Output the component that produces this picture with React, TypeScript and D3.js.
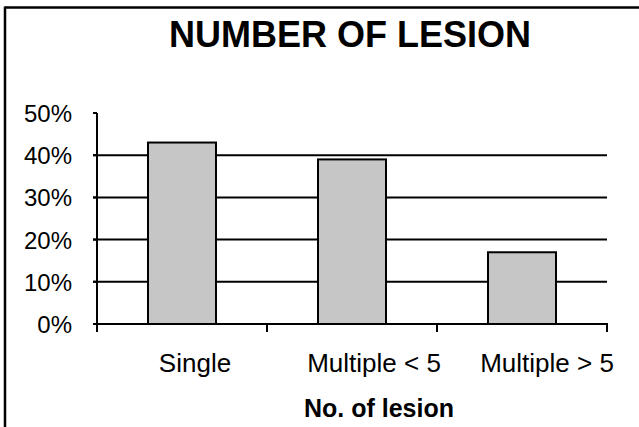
import React from "react";
import * as d3 from "d3";

const categories = ["Single", "Multiple < 5", "Multiple > 5"];
const values = [0.43, 0.39, 0.17];
const yTicks = [0, 0.1, 0.2, 0.3, 0.4, 0.5];
const gridTicks = [0.1, 0.2, 0.3, 0.4];
const chartTitle = "NUMBER OF LESION";
const xTitle = "No. of lesion";
const labelShift = [13, 22, 25];

const W = 639;
const H = 427;
const FONT = "'Liberation Sans', Arial, Helvetica, sans-serif";

export default function App() {
  const x = d3.scaleBand<string>().domain(categories).range([97, 607]).paddingInner(0.6).paddingOuter(0.3);
  const y = d3.scaleLinear().domain([0, 0.5]).range([324, 113]);
  const step = x.step();
  const half = (step * x.paddingInner()) / 2;
  const boundaries = [x.range()[0], ...categories.map((c) => (x(c) as number) + x.bandwidth() + half)];
  const fmt = d3.format(".0%");
  const [x0, x1] = x.range();

  return (
    <svg width={W} height={H} style={{ position: "absolute", left: 0, top: 0, background: "#fff" }}>
      <rect x={0} y={0} width={W} height={H} fill="#fff" />
      {/* frame */}
      <line x1={5} y1={7.5} x2={W} y2={7.5} stroke="#000" strokeWidth={2.5} />
      <line x1={5} y1={6.5} x2={5} y2={H} stroke="#000" strokeWidth={2.5} />
      <text x={350} y={47} textAnchor="middle" fontFamily={FONT} fontWeight="bold" fontSize={36} fill="#000">
        {chartTitle}
      </text>
      {/* gridlines */}
      {gridTicks.map((t) => (
        <line key={t} x1={x0 - 4} x2={x1} y1={y(t)} y2={y(t)} stroke="#000" strokeWidth={2} />
      ))}
      {/* bars */}
      {categories.map((c, i) => (
        <rect
          key={c}
          x={x(c)}
          y={y(values[i])}
          width={x.bandwidth()}
          height={y(0) - y(values[i])}
          fill="#c6c6c6"
          stroke="#000"
          strokeWidth={2}
        />
      ))}
      {/* y axis */}
      <line x1={x0} x2={x0} y1={y(0.5)} y2={y(0)} stroke="#000" strokeWidth={2} />
      {yTicks.map((t) => (
        <g key={t}>
          <line x1={x0 - 4} x2={x0} y1={y(t)} y2={y(t)} stroke="#000" strokeWidth={2} />
          <text x={72} y={y(t) + 9} textAnchor="end" fontFamily={FONT} fontSize={24} fill="#000">
            {fmt(t)}
          </text>
        </g>
      ))}
      {/* x axis */}
      <line x1={x0 - 4} x2={x1 + 1} y1={y(0)} y2={y(0)} stroke="#000" strokeWidth={2} />
      {boundaries.map((b, i) => (
        <line key={i} x1={b} x2={b} y1={y(0)} y2={y(0) + 8} stroke="#000" strokeWidth={2} />
      ))}
      {categories.map((c, i) => (
        <text
          key={c}
          x={(x(c) as number) + x.bandwidth() / 2 + labelShift[i]}
          y={372}
          textAnchor="middle"
          fontFamily={FONT}
          fontSize={26}
          fill="#000"
        >
          {c}
        </text>
      ))}
      <text x={379} y={417} textAnchor="middle" fontFamily={FONT} fontWeight="bold" fontSize={25} fill="#000">
        {xTitle}
      </text>
    </svg>
  );
}
